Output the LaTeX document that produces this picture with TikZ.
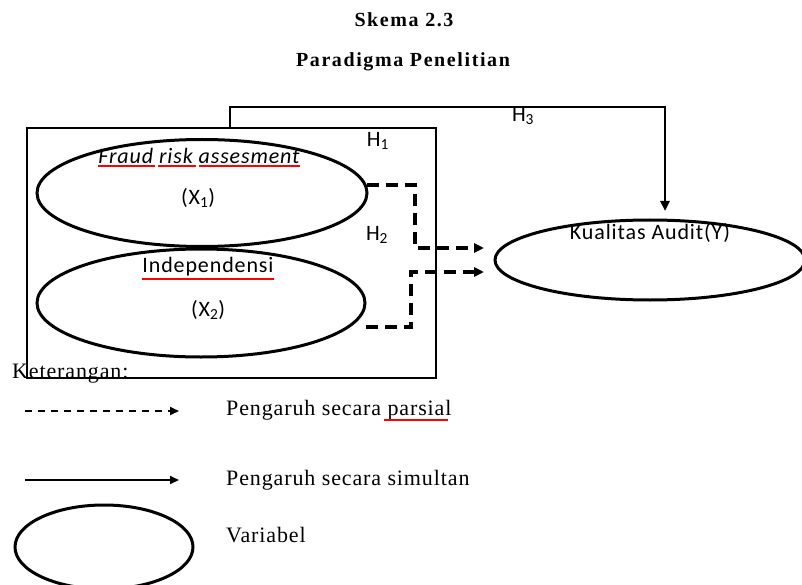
\documentclass[tikz,border=0pt]{standalone}
\usepackage{fontspec}
\setmainfont[LetterSpace=4]{Liberation Serif}
\newfontfamily\titlefont[LetterSpace=8]{Liberation Serif}
\newfontfamily\carlitofont[LetterSpace=4]{Carlito}
\usetikzlibrary{arrows.meta,shapes.geometric}
\begin{document}
\begin{tikzpicture}[x=1pt,y=-1pt,
  lbl/.style={font=\carlitofont\fontsize{22}{22}\selectfont,inner sep=0pt},
  leg/.style={font=\fontsize{22}{22}\selectfont,anchor=west,inner sep=0pt},
  var/.style={draw,line width=3pt,ellipse,inner sep=0pt},
  dline/.style={line width=3.4pt,dash pattern=on 12pt off 7pt},
  tip/.style={-{Triangle[length=10pt,width=9pt]}},
  redu/.style={red,line width=1.6pt}]
\useasboundingbox (0,0) rectangle (802,585);
\node[font=\titlefont\bfseries\fontsize{20}{20}\selectfont] (t1) at (404,20) {Skema 2.3};
\node[font=\titlefont\bfseries\fontsize{20}{20}\selectfont] (t2) at (403,62) {Paradigma Penelitian};
% box
\draw[line width=2.6pt] (27,128) rectangle (436,378);
\node[var,minimum width=330pt,minimum height=107pt] (x1) at (202,193) {};
\node[var,minimum width=328pt,minimum height=108pt] (x2) at (201,303) {};
\node[var,minimum width=310pt,minimum height=80pt] (y) at (650,260) {};
\node[lbl,font=\carlitofont\itshape\fontsize{22}{22}\selectfont] (f) at (199,156) {Fraud risk assesment};
\node[lbl] (x1l) at (198,198) {(X\textsubscript{1})};
\node[lbl] (ind) at (208,267) {Independensi};
\node[lbl] (x2l) at (208,310) {(X\textsubscript{2})};
\node[lbl] (yl) at (650,233) {Kualitas Audit(Y)};
\node[lbl] (h1) at (378,141) {H\textsubscript{1}};
\node[lbl] (h2) at (377,235) {H\textsubscript{2}};
\node[lbl] (h3) at (523,116) {H\textsubscript{3}};
% red underlines
\draw[redu] (98,166) -- (155,166) (158,166) -- (196,166) (199,166) -- (300,166);
\draw[redu] (142,279) -- (274,279);
% H3
\coordinate (h3a) at (230,128);
\coordinate (h3b) at (665,211);
\draw[line width=2.6pt,tip] (h3a) -- (230,107) -- (665,107) -- (h3b);
% dashed
\coordinate (d1s) at (367,185);
\coordinate (d1e) at (484,248);
\coordinate (d2s) at (366,327);
\coordinate (d2e) at (484,272);
\draw[dline,tip] (d1s) -- (415,185) -- (415,248) -- (d1e);
\draw[dline,tip] (d2s) -- (411,327) -- (411,272) -- (d2e);
% legend
\node[leg] (ket) at (12,374) {Keterangan:};
\coordinate (l1a) at (25,411); \coordinate (l1b) at (179,411);
\coordinate (l2a) at (25,480); \coordinate (l2b) at (179,480);
\draw[line width=1.8pt,dash pattern=on 7pt off 6pt,-{Triangle[length=9pt,width=8pt]}] (l1a) -- (l1b);
\draw[line width=2pt,-{Triangle[length=9pt,width=8pt]}] (l2a) -- (l2b);
\node[leg] (p1) at (226,410) {Pengaruh secara parsial};
\draw[redu] (384,420) -- (448,420);
\node[leg] (p2) at (226,480) {Pengaruh secara simultan};
\node[var,minimum width=178pt,minimum height=84pt] (lv) at (104,547) {};
\node[leg] (p3) at (226,535) {Variabel};
\end{tikzpicture}
\end{document}
